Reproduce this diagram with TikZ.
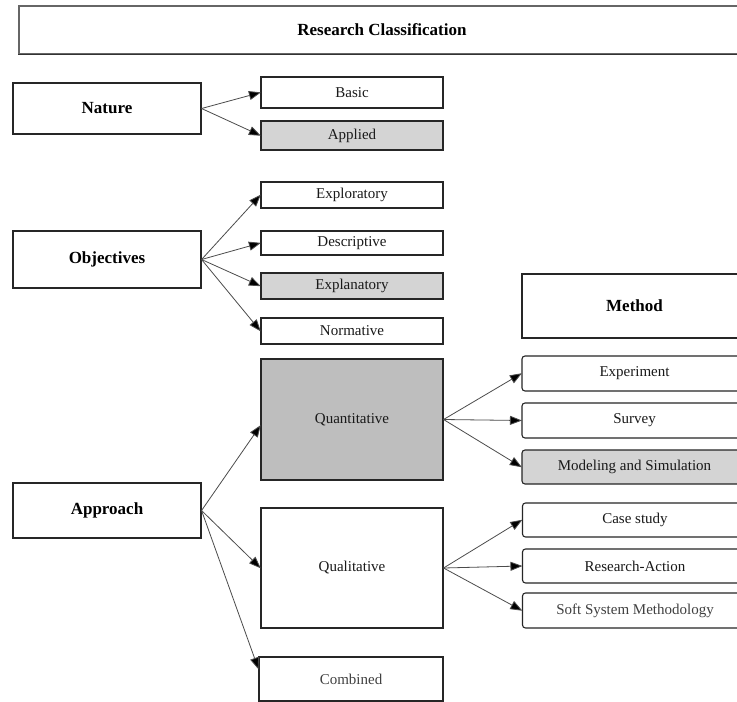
\documentclass[tikz,border=0pt]{standalone}
\usepackage{fontspec}
\setmainfont{Liberation Serif}
\usetikzlibrary{arrows.meta}
\definecolor{darkfill}{HTML}{BEBEBE}
\definecolor{lightfill}{HTML}{D4D4D4}
\tikzset{
  box/.style={draw=black!85, line width=1.1pt, fill=white, inner sep=0pt, font=\fontsize{15}{17}\selectfont, text=black!90},
  headbox/.style={box, font=\fontsize{17}{19}\selectfont\bfseries, text=black},
  rbox/.style={box, rounded corners=3pt},
  conn/.style={draw=black!70, line width=0.8pt, -{Triangle[length=12pt,width=9pt,fill=black]}, shorten >=-0.5pt},
}
\begin{document}
\begin{tikzpicture}[x=1pt,y=-1pt]
\clip (0,0) rectangle (737,702);
\fill[white] (0,0) rectangle (737,702);

% title
\node[headbox, draw=black!60, minimum width=726, minimum height=48] (title) at (382,30) {Research Classification};
\draw[black!80, line width=1.4pt] (title.south west) -- (title.south east);

% left category boxes
\node[headbox, minimum width=188, minimum height=51] (nat) at (107,108.5) {Nature};
\node[headbox, minimum width=188, minimum height=57] (obj) at (107,259.5) {Objectives};
\node[headbox, minimum width=188, minimum height=55] (app) at (107,510.5) {Approach};

% nature options
\node[box, minimum width=182, minimum height=31] (basic) at (352,92.5) {Basic};
\node[box, fill=lightfill, minimum width=182, minimum height=29] (appl) at (352,135.5) {Applied};

% objective options
\node[box, minimum width=182, minimum height=26] (expl) at (352,195) {Exploratory};
\node[box, minimum width=182, minimum height=24] (desc) at (352,243) {Descriptive};
\node[box, fill=lightfill, minimum width=182, minimum height=26] (expn) at (352,286) {Explanatory};
\node[box, minimum width=182, minimum height=26] (norm) at (352,331) {Normative};

% approach options
\node[box, fill=darkfill, minimum width=182, minimum height=121] (quant) at (352,419.5) {Quantitative};
\node[box, minimum width=182, minimum height=120] (qual) at (352,568) {Qualitative};
\node[box, text=black!75, minimum width=184, minimum height=44] (comb) at (351,679) {Combined};

% method
\node[headbox, minimum width=225, minimum height=64] (meth) at (634.5,306) {Method};
\node[rbox, minimum width=225, minimum height=35] (exper) at (634.5,373.5) {Experiment};
\node[rbox, minimum width=225, minimum height=35] (surv) at (634.5,420.5) {Survey};
\node[rbox, fill=lightfill, minimum width=225, minimum height=34] (model) at (634.5,467) {Modeling and Simulation};
\node[rbox, minimum width=225, minimum height=34] (case) at (635,520) {Case study};
\node[rbox, minimum width=225, minimum height=34] (ract) at (635,566) {Research-Action};
\node[rbox, text=black!75, minimum width=225, minimum height=35] (soft) at (635,610.5) {Soft System Methodology};

% connectors
\draw[conn] (nat.east) -- (basic.west);
\draw[conn] (nat.east) -- (appl.west);
\draw[conn] (obj.east) -- (expl.west);
\draw[conn] (obj.east) -- (desc.west);
\draw[conn] (obj.east) -- (expn.west);
\draw[conn] (obj.east) -- (norm.west);
\draw[conn] (app.east) -- ([yshift=-6pt]quant.west);
\draw[conn] (app.east) -- (qual.west);
\draw[conn] (app.east) -- ([yshift=10pt]comb.west);
\draw[conn] (quant.east) -- (exper.west);
\draw[conn] (quant.east) -- (surv.west);
\draw[conn] (quant.east) -- (model.west);
\draw[conn] (qual.east) -- (case.west);
\draw[conn] (qual.east) -- (ract.west);
\draw[conn] (qual.east) -- (soft.west);
\end{tikzpicture}
\end{document}
